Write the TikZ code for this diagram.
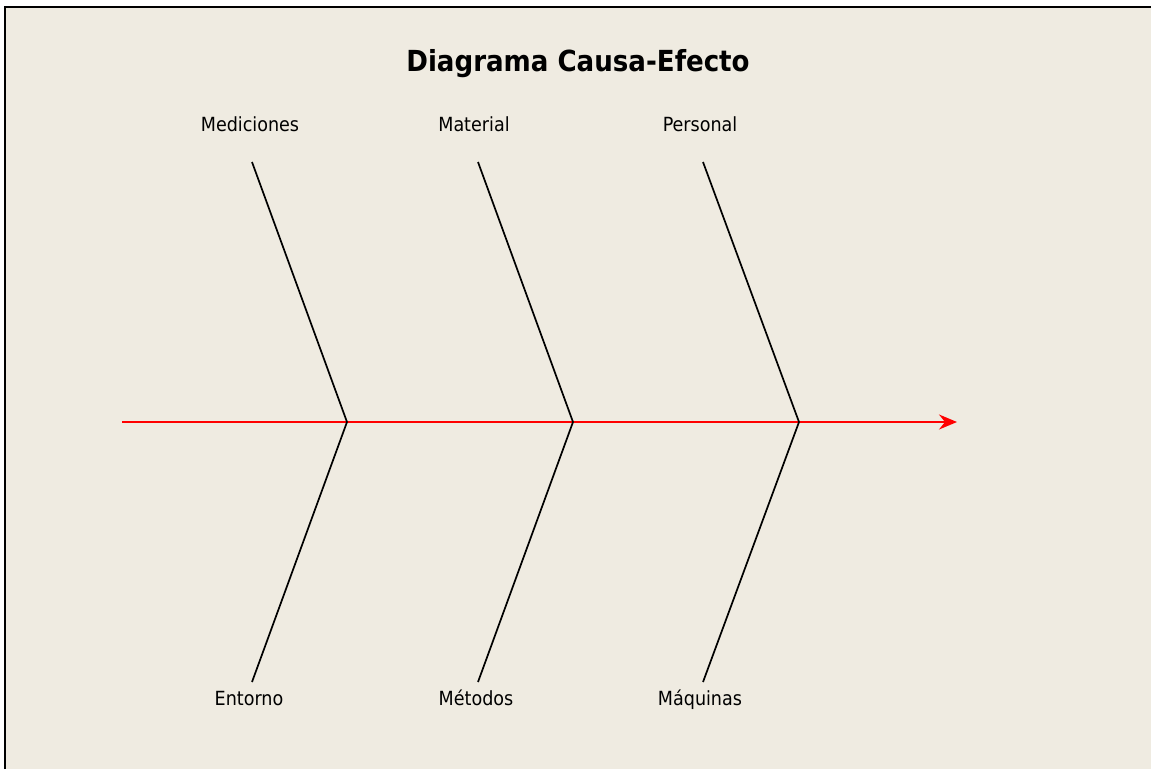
\documentclass[tikz,border=0pt]{standalone}
\usepackage{fontspec}
\setmainfont{DejaVu Sans Condensed}
\usetikzlibrary{arrows.meta}
\definecolor{paper}{HTML}{EFEBE1}

\begin{document}
\begin{tikzpicture}[x=1pt, y=-1pt, bone/.style={line width=1.7pt, black}, cause/.style={font=\fontsize{19.5}{23}\selectfont, inner sep=0pt, anchor=base}]
\useasboundingbox (0,0) rectangle (1151,769);
\fill[white] (0,0) rectangle (1151,769);
\fill[paper] (5,7) rectangle (1151,769);
\draw[line width=1.8pt] (5,769) -- (5,7) -- (1151,7);

\node (title) [anchor=base, inner sep=0pt] at (578,71) {\fontsize{29}{34}\selectfont\bfseries Diagrama Causa-Efecto};

% spine
\coordinate (tail) at (122,422);
\coordinate (head) at (957,422);
\coordinate (j1) at (347,422);
\coordinate (j2) at (573,422);
\coordinate (j3) at (799,422);

% bone ends
\coordinate (u1) at (252,162);
\coordinate (u2) at (478,162);
\coordinate (u3) at (703,162);
\coordinate (d1) at (252,682);
\coordinate (d2) at (478,682);
\coordinate (d3) at (703,682);

\node (med) [cause] at (250,131) {Mediciones};
\node (mat) [cause] at (474,131) {Material};
\node (per) [cause] at (700,131) {Personal};
\node (ent) [cause] at (249,705) {Entorno};
\node (met) [cause] at (476,705) {Métodos};
\node (maq) [cause] at (700,705) {Máquinas};

\draw[-{Stealth[length=18pt, width=15pt, inset=6pt]}, red, line width=2.2pt] (tail) -- (head);

\draw[bone] (u1) -- (j1) -- (d1);
\draw[bone] (u2) -- (j2) -- (d2);
\draw[bone] (u3) -- (j3) -- (d3);
\end{tikzpicture}
\end{document}
